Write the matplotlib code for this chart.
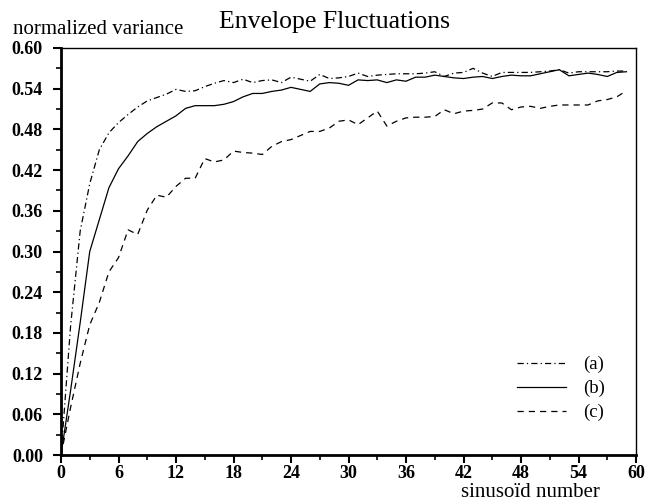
import numpy as np
import matplotlib
matplotlib.use("Agg")
import matplotlib.pyplot as plt
from matplotlib.ticker import MultipleLocator

# sinusoid number 0..59
n = np.arange(60)

curve_a = [0.0, 0.19, 0.33, 0.40, 0.45, 0.475, 0.49, 0.502, 0.513, 0.522,
           0.527, 0.532, 0.539, 0.536, 0.537, 0.543, 0.548, 0.552, 0.549, 0.554,
           0.549, 0.552, 0.553, 0.549, 0.557, 0.554, 0.551, 0.561, 0.555, 0.556,
           0.558, 0.563, 0.558, 0.560, 0.561, 0.562, 0.562, 0.562, 0.563, 0.565,
           0.558, 0.563, 0.564, 0.570, 0.563, 0.558, 0.564, 0.564, 0.564, 0.564,
           0.565, 0.566, 0.568, 0.563, 0.565, 0.565, 0.565, 0.565, 0.566, 0.566]

curve_b = [0.0, 0.095, 0.195, 0.30, 0.347, 0.394, 0.422, 0.441, 0.462, 0.474,
           0.484, 0.492, 0.500, 0.511, 0.515, 0.515, 0.515, 0.517, 0.521, 0.528,
           0.533, 0.533, 0.536, 0.538, 0.542, 0.539, 0.536, 0.547, 0.549, 0.548,
           0.545, 0.553, 0.552, 0.553, 0.549, 0.553, 0.551, 0.557, 0.557, 0.560,
           0.558, 0.556, 0.555, 0.557, 0.558, 0.555, 0.558, 0.560, 0.559, 0.559,
           0.562, 0.565, 0.568, 0.559, 0.561, 0.563, 0.561, 0.558, 0.564, 0.565]

curve_c = [0.0, 0.07, 0.135, 0.192, 0.225, 0.27, 0.291, 0.332, 0.325, 0.361,
           0.383, 0.380, 0.396, 0.408, 0.408, 0.437, 0.432, 0.435, 0.448, 0.446,
           0.445, 0.443, 0.455, 0.462, 0.465, 0.471, 0.477, 0.477, 0.482, 0.492,
           0.494, 0.487, 0.497, 0.507, 0.485, 0.492, 0.497, 0.498, 0.498, 0.499,
           0.509, 0.503, 0.507, 0.508, 0.510, 0.519, 0.519, 0.509, 0.513, 0.514,
           0.511, 0.514, 0.516, 0.516, 0.516, 0.516, 0.522, 0.524, 0.528, 0.537]

labels = ["(a)", "(b)", "(c)"]
x_ticks = [0, 6, 12, 18, 24, 30, 36, 42, 48, 54, 60]
y_ticks = [0.00, 0.06, 0.12, 0.18, 0.24, 0.30, 0.36, 0.42, 0.48, 0.54, 0.60]

plt.rcParams['font.family'] = ['Liberation Serif', 'DejaVu Serif']

W, H = 650, 503
fig = plt.figure(figsize=(6.5, 5.03), dpi=100)
ax = fig.add_axes([61/W, 48/H, 575/W, 407/H])

lw = 0.9
ax.plot(n, curve_a, color="black", lw=lw, dashes=(5, 2.5, 1, 2.5), label=labels[0])
ax.plot(n, curve_b, color="black", lw=lw, label=labels[1])
ax.plot(n, curve_c, color="black", lw=lw, dashes=(5, 4), label=labels[2])

ax.set_xlim(0, 60)
ax.set_ylim(0, 0.60)
ax.set_xticks(x_ticks)
ax.set_yticks(y_ticks)
ax.set_xticklabels([str(v) for v in x_ticks], fontweight="bold", fontsize=13)
ax.set_yticklabels(["%.2f" % v for v in y_ticks], fontweight="bold", fontsize=13)
ax.xaxis.set_minor_locator(MultipleLocator(3))
ax.yaxis.set_minor_locator(MultipleLocator(0.03))
ax.tick_params(which="major", direction="out", length=6, width=1.5)
ax.tick_params(which="minor", direction="out", length=3.5, width=1.2)
ax.tick_params(axis="y", which="major", pad=7)
ax.tick_params(axis="x", which="major", pad=1)
ax.tick_params(top=False, right=False)

ax.spines["left"].set_linewidth(2.0)
ax.spines["bottom"].set_linewidth(2.0)
ax.spines["top"].set_linewidth(1.0)
ax.spines["right"].set_linewidth(1.0)

fig.text(335/W, 1 - 28/H, "Envelope Fluctuations", ha="center", va="baseline", fontsize=18.5)
fig.text(13/W, 1 - 34/H, "normalized variance", ha="left", va="baseline", fontsize=15)
fig.text(600/W, 1 - 497/H, "sinusoïd number", ha="right", va="baseline", fontsize=15)

leg = ax.legend(loc="upper left", bbox_to_anchor=((517 - 61)/575, (455 - 356)/407),
                frameon=False, borderpad=0, borderaxespad=0,
                handlelength=2.6, handletextpad=0.95, labelspacing=0.36, fontsize=13.5)

fig.savefig("out.png", dpi=100)
